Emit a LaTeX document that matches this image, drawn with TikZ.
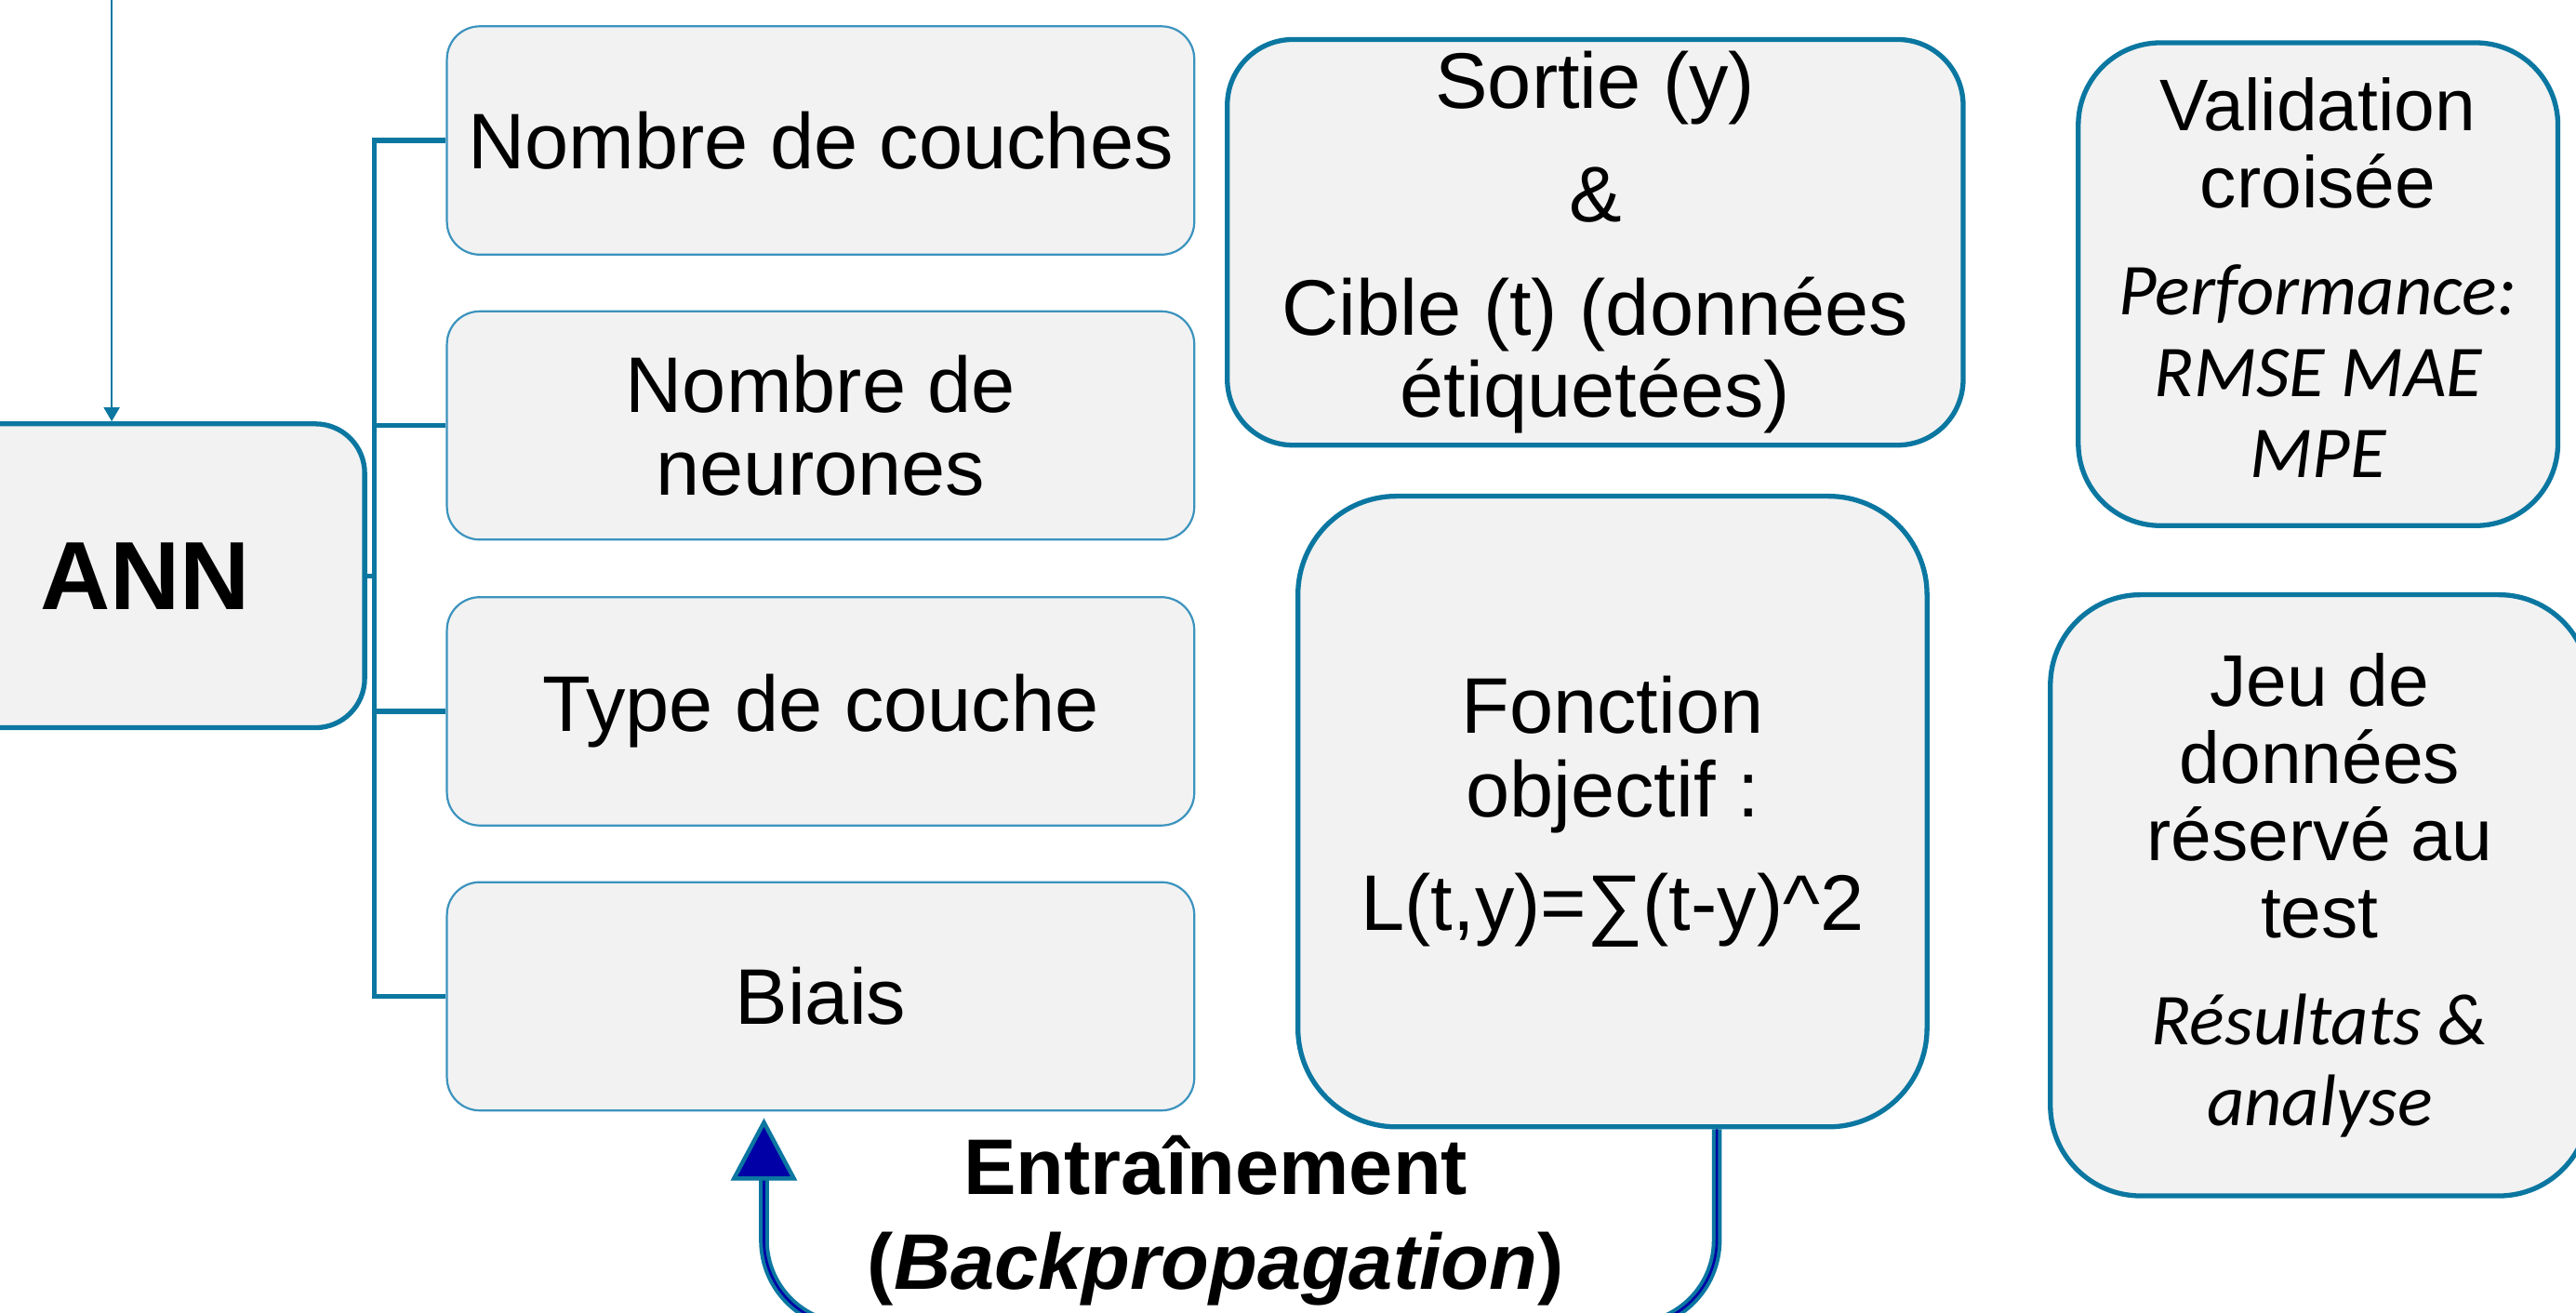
\documentclass[tikz,border=0pt]{standalone}
\usepackage{fontspec}
\setmainfont{Liberation Sans}
\newfontfamily\carlito{Carlito}
\usetikzlibrary{arrows.meta,calc}
\definecolor{teal0}{HTML}{0B77A1}
\definecolor{tealthin}{HTML}{3C93BE}
\definecolor{boxfill}{HTML}{F2F2F2}
\definecolor{arrowblue}{HTML}{0000A6}
\begin{document}
\begin{tikzpicture}[x=0.02cm,y=-0.02cm,
  parambox/.style={draw=tealthin, line width=0.025cm, fill=boxfill, rounded corners=0.4cm,
    minimum width=9.1cm, minimum height=2.78cm, inner sep=0pt, align=center,
    font=\fontsize{0.96cm}{1.0cm}\selectfont},
  bigbox/.style={draw=teal0, line width=0.06cm, fill=boxfill, inner sep=0pt, align=center},
  conn/.style={draw=teal0, line width=0.06cm},
  thinarrow/.style={draw=teal0, line width=0.03cm, -{Triangle[length=0.17cm,width=0.19cm]}},
  backline/.style={draw=teal0, line width=0.12cm, rounded corners=1.04cm,
    -{Triangle[length=0.76cm,width=0.8cm,fill=arrowblue,line width=0.05cm]}},
  backcore/.style={draw=arrowblue, line width=0.03cm, rounded corners=1.04cm}
]
\useasboundingbox (0,0) rectangle (1568,799);
\clip (0,0) rectangle (1568,799);

\node[bigbox, rounded corners=0.6cm, minimum width=5.34cm, minimum height=3.7cm,
  font=\bfseries\fontsize{1.18cm}{1.2cm}\selectfont] (ann) at (88.5,350.5) {ANN};

\node[parambox] (p1) at (499.5,85.5) {Nombre de couches};
\node[parambox] (p2) at (499.5,259) {Nombre de\\neurones};
\node[parambox] (p3) at (499.5,433) {Type de couche};
\node[parambox] (p4) at (499.5,606.5) {Biais};

\node[bigbox, rounded corners=0.8cm, minimum width=8.96cm, minimum height=4.94cm,
  font=\fontsize{0.96cm}{0.99cm}\selectfont] (sortie) at (971,147.5)
  {Sortie (y)\\[0.39cm]\&\\[0.39cm]Cible (t) (données\\étiquetées)};

\node[bigbox, rounded corners=1.2cm, minimum width=7.66cm, minimum height=7.68cm,
  font=\fontsize{0.96cm}{1.02cm}\selectfont] (fonc) at (981.5,494)
  {Fonction\\objectif :\\[0.36cm]L(t,y)=∑(t-y)\textasciicircum 2};

\node[bigbox, rounded corners=1.0cm, minimum width=5.84cm, minimum height=5.88cm,
  text depth=0.16cm, font=\fontsize{0.89cm}{0.94cm}\selectfont] (valid) at (1411,173)
  {Validation\\croisée\\[0.37cm]{\carlito\itshape Performance:}\\[0.05cm]{\carlito\itshape RMSE MAE}\\[0.05cm]{\carlito\itshape MPE}};

\node[bigbox, rounded corners=1.1cm, minimum width=6.56cm, minimum height=7.32cm,
  font=\fontsize{0.89cm}{0.94cm}\selectfont] (jeu) at (1412,545)
  {Jeu de\\données\\réservé au\\test\\[0.36cm]{\carlito\itshape Résultats \&}\\[0.05cm]{\carlito\itshape analyse}};

\node[font=\bfseries\fontsize{0.96cm}{1.15cm}\selectfont, align=center] (lbl) at (740,743)
  {Entraînement\\(\textit{Backpropagation})};

% incoming arrow
\coordinate (topin) at (68,-10);
\draw[thinarrow] (topin) -- (topin |- ann.north);

% tree connectors
\foreach \p in {p1,p2,p3,p4}
  \draw[conn] (ann.east) -- ++(4.5,0) |- (\p.west);

% training loop arrow
\coordinate (fs) at ([xshift=1.27cm]fonc.south);
\coordinate (tip) at ([xshift=-0.69cm,yshift=-0.08cm]p4.south);
\coordinate (bot) at (0,807);
\draw[backline] (fs) -- (fs |- bot) -- (tip |- bot) -- (tip);
\draw[backcore] (fs) -- (fs |- bot) -- (tip |- bot) -- ([yshift=-0.76cm]tip);
\end{tikzpicture}
\end{document}
